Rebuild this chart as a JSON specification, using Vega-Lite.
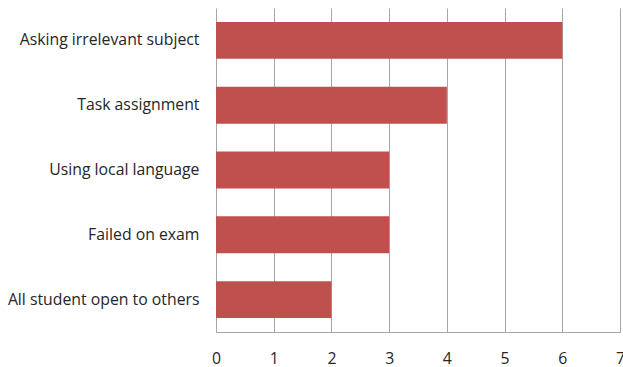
{
  "$schema": "https://vega.github.io/schema/vega-lite/v6.json",
  "width": 404,
  "height": 324,
  "autosize": {"type": "none"},
  "padding": {"left": 216, "top": 8, "right": 3, "bottom": 35},
  "background": "white",
  "config": {"view": {"stroke": null}},
  "data": {"values": [
    {"reason": "Asking irrelevant subject", "count": 6},
    {"reason": "Task assignment", "count": 4},
    {"reason": "Using local language", "count": 3},
    {"reason": "Failed on exam", "count": 3},
    {"reason": "All student open to others", "count": 2}
  ]},
  "mark": {"type": "bar", "color": "#C0504D"},
  "encoding": {
    "y": {
      "field": "reason", "type": "nominal", "sort": null,
      "scale": {"paddingInner": 0.43, "paddingOuter": 0.215},
      "axis": {"title": null, "ticks": false, "domain": false, "labelPadding": 17,
               "labelFont": "Open Sans", "labelFontSize": 15.8, "labelColor": "#262626", "labelLimit": 300}
    },
    "x": {
      "field": "count", "type": "quantitative",
      "scale": {"domain": [0, 7], "nice": false},
      "axis": {"title": null, "values": [0,1,2,3,4,5,6,7], "ticks": false,
               "domainColor": "#A6A6A6", "gridColor": "#A6A6A6", "grid": true,
               "labelOverlap": false,
               "labelPadding": 19, "labelFont": "Open Sans", "labelFontSize": 15.8, "labelColor": "#262626",
               "labelFlush": false}
    }
  }
}
